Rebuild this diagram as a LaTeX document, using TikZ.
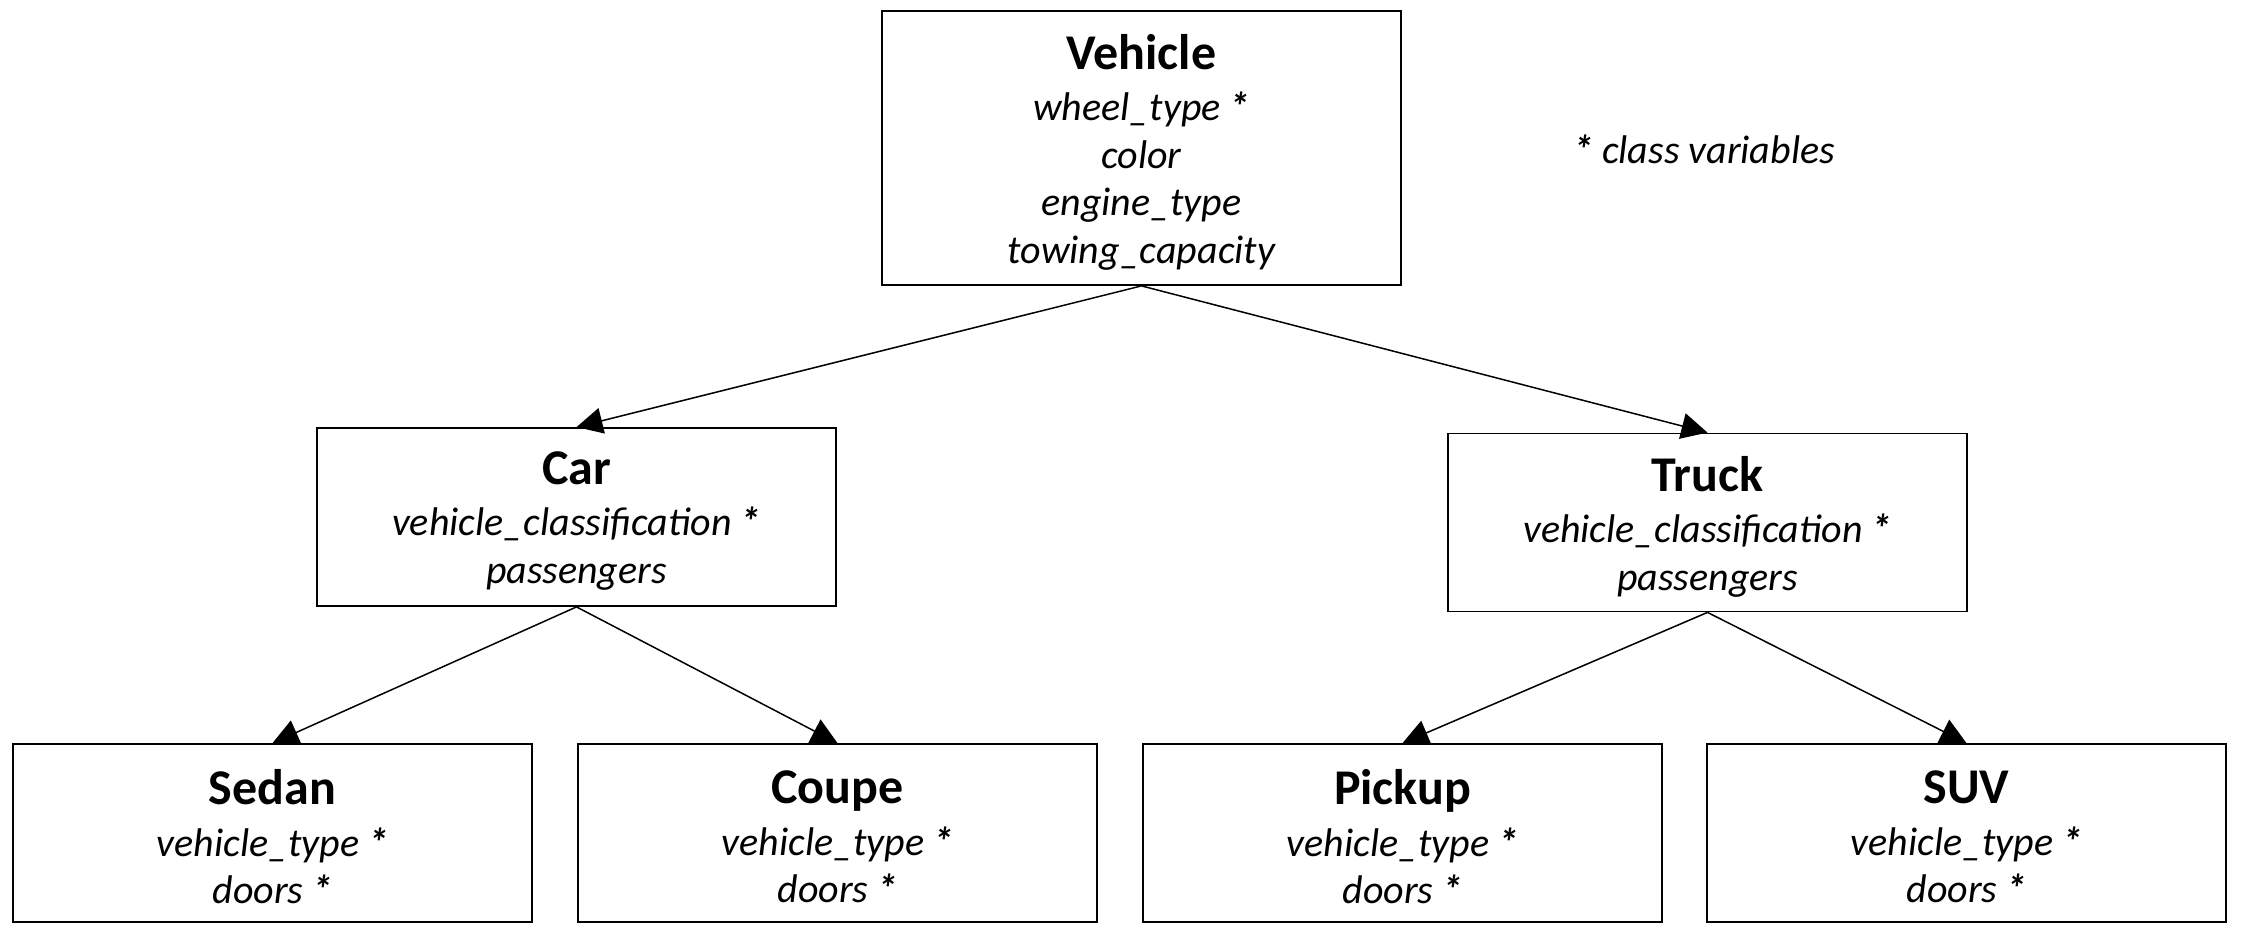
\documentclass[tikz,border=0pt]{standalone}
\usepackage{fontspec}
\setmainfont{Carlito}
\usetikzlibrary{arrows.meta}
\tikzset{
  box/.style={draw, line width=1.8pt, minimum width=519pt, minimum height=178pt, inner sep=0pt},
  txt/.style={align=center, inner sep=0pt, yshift=-4pt, font=\fontsize{40}{47.5}\selectfont\itshape},
  arr/.style={line width=1.5pt, -{Triangle[length=26pt,width=26pt]}}
}
\newcommand{\ttl}[1]{{\fontsize{50}{54}\selectfont\bfseries\upshape #1}\\[4pt]}
\newcommand{\st}{{\bfseries *}}
\begin{document}
\begin{tikzpicture}[x=1pt,y=1pt]
\useasboundingbox (0,0) rectangle (2242,-934);
\node[box, minimum height=274pt] (veh) at (1141.5,-148) {};
\node[box] (car) at (576.5,-517) {};
\node[box] (truck) at (1707.5,-522.5) {};
\node[box] (sedan) at (272.5,-833) {};
\node[box] (coupe) at (837.5,-833) {};
\node[box] (pickup) at (1402.5,-833) {};
\node[box] (suv) at (1966.5,-833) {};
\node[txt] (vehT) at (veh.center) {\ttl{Vehicle}wheel\_type \st\\color\\engine\_type\\towing\_capacity};
\node[txt] (carT) at (car.center) {\ttl{Car}vehicle\_classification \st\\passengers};
\node[txt] (truckT) at (truck.center) {\ttl{Truck}vehicle\_classification \st\\passengers};
\node[txt] (sedanT) at (sedan.center) {\ttl{Sedan}vehicle\_type \st\\doors \st};
\node[txt] (coupeT) at (coupe.center) {\ttl{Coupe}vehicle\_type \st\\doors \st};
\node[txt] (pickupT) at (pickup.center) {\ttl{Pickup}vehicle\_type \st\\doors \st};
\node[txt] (suvT) at (suv.center) {\ttl{SUV}vehicle\_type \st\\doors \st};
\node[anchor=west, inner sep=0pt, font=\fontsize{40}{47.5}\selectfont\itshape] (note) at (1573,-149) {\st{} class variables};
\draw[arr] (veh.south) -- (car.north);
\draw[arr] (veh.south) -- (truck.north);
\draw[arr] (car.south) -- (sedan.north);
\draw[arr] (car.south) -- (coupe.north);
\draw[arr] (truck.south) -- (pickup.north);
\draw[arr] (truck.south) -- (suv.north);
\end{tikzpicture}
\end{document}
